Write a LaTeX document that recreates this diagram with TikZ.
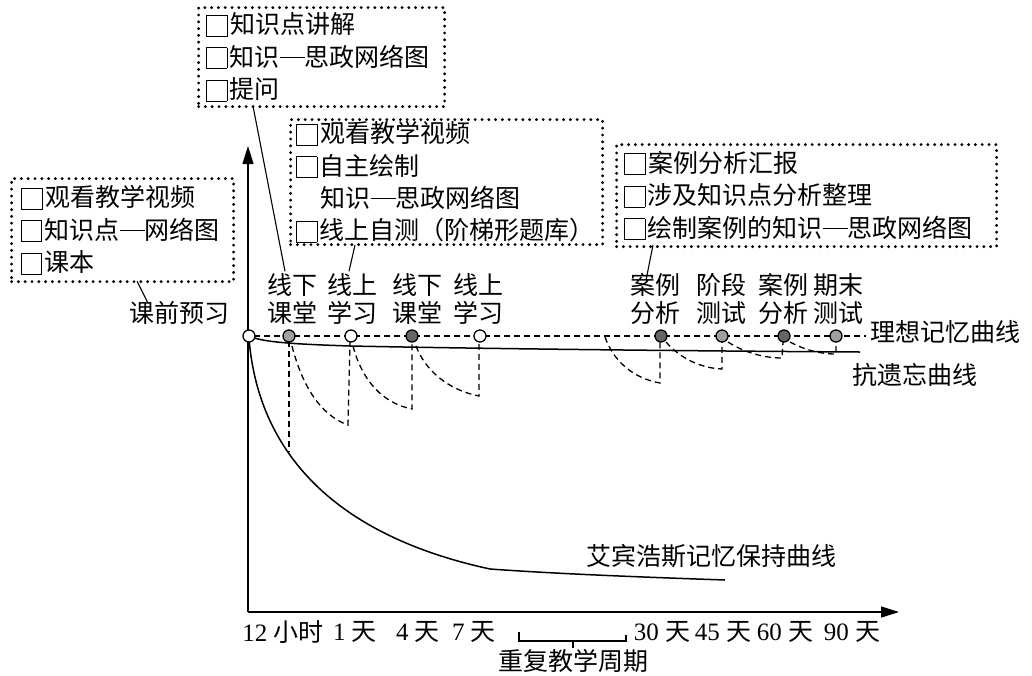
\documentclass[tikz,border=0pt]{standalone}
\usepackage{fontspec}
\setmainfont{Liberation Serif}
\newfontfamily\cjk{Noto Sans CJK SC}
\usetikzlibrary{arrows.meta}
\definecolor{lg}{HTML}{A0A0A0}
\definecolor{dg}{HTML}{666666}
\newcommand\sqbox{\kern0.02em\raisebox{-0.07em}{\setlength{\fboxsep}{0pt}\setlength{\fboxrule}{0.9pt}\fbox{\rule{0pt}{0.8em}\rule{0.8em}{0pt}}}\kern0.1em}
\newcommand\cdash{\rule[0.33em]{1em}{0.05em}}
\begin{document}
\begin{tikzpicture}[x=1pt,y=-1pt,
 txt/.style={font=\cjk\fontsize{25}{28}\selectfont, inner sep=0pt},
 lbl/.style={txt, align=center},
 dotbox/.style={draw, line width=3.2pt, dash pattern=on 0pt off 6.8pt, line cap=round,
   font=\cjk\fontsize{25}{32}\selectfont, align=left, anchor=north west, inner xsep=7pt, inner ysep=0pt},
 axis/.style={line width=1.4pt, -{Triangle[length=18pt,width=11pt]}},
 dsh/.style={line width=1.3pt, dash pattern=on 6pt off 4pt},
 pt/.style={circle, draw, line width=1.3pt, minimum size=12pt, inner sep=0pt},
 conn/.style={line width=1.1pt},
 curve/.style={line width=1.5pt}]
\useasboundingbox (0,0) rectangle (1032,675);

% boxes
\node[dotbox, text width=232pt, minimum height=99pt] (b1) at (197,6) {\sqbox 知识点讲解\\\sqbox 知识\cdash 思政网络图\\\sqbox 提问};
\node[dotbox, inner xsep=5pt, text width=302pt, minimum height=125pt] (b2) at (289,118) {\sqbox 观看教学视频\\\sqbox 自主绘制\\\hspace*{1em}知识\cdash 思政网络图\\\sqbox 线上自测（阶梯形题库）};
\node[dotbox, text width=366pt, minimum height=102pt] (b3) at (615,143) {\sqbox 案例分析汇报\\\sqbox 涉及知识点分析整理\\\sqbox 绘制案例的知识\cdash 思政网络图};
\node[dotbox, inner xsep=9pt, text width=204pt, minimum height=103pt] (b4) at (10,177) {\sqbox 观看教学视频\\\sqbox 知识点\cdash 网络图\\\sqbox 课本};

% axes
\coordinate (O) at (248,612);
\coordinate (ytip) at (248,146);
\coordinate (xtip) at (899,612);
\draw[axis] (O) -- (ytip);
\draw[axis] (O) -- (xtip);

% Ebbinghaus curve
\draw[curve] (249,338) .. controls (256,430) and (310,530) .. (490,569) .. controls (560,574) and (640,577) .. (725,580);

% anti-forgetting curve
\draw[curve] (249,336) .. controls (262,342) and (290,344) .. (350,346) .. controls (500,349) and (700,351) .. (860,352);

% ideal line
\draw[dsh] (254,336) -- (866,336);

% sawtooth dashed
\draw[dsh] (289,341) -- (289,452);
\draw[dsh] (292,346) .. controls (302,385) and (320,415) .. (348,425) -- (350,342);
\draw[dsh] (353,346) .. controls (362,380) and (382,403) .. (412,409) -- (412,342);
\draw[dsh] (416,346) .. controls (425,370) and (448,390) .. (479,396) -- (479,342);
\draw[dsh] (605,337) .. controls (613,360) and (632,378) .. (660,383) -- (660,342);
\draw[dsh] (666,342) .. controls (680,358) and (700,368) .. (722,369) -- (722,342);
\draw[dsh] (728,342) .. controls (745,353) and (765,358) .. (782,358) -- (783,342);
\draw[dsh] (790,342) .. controls (805,350) and (820,354) .. (836,354) -- (836,342);

% points
\node[pt, fill=white] (p0) at (249,336) {};
\node[pt, fill=lg] (p1) at (289,336) {};
\node[pt, fill=white] (p2) at (351,336) {};
\node[pt, fill=dg] (p3) at (412,336) {};
\node[pt, fill=white] (p4) at (480,336) {};
\node[pt, fill=dg] (p5) at (661,336) {};
\node[pt, fill=lg] (p6) at (722,336) {};
\node[pt, fill=dg] (p7) at (784,336) {};
\node[pt, fill=lg] (p8) at (836,336) {};

% labels above points
\node[lbl] (l1) at (292,299) {线下\\课堂};
\node[lbl] (l2) at (352,299) {线上\\学习};
\node[lbl] (l3) at (417,299) {线下\\课堂};
\node[lbl] (l4) at (478,299) {线上\\学习};
\node[lbl] (l5) at (655,299) {案例\\分析};
\node[lbl] (l6) at (721,299) {阶段\\测试};
\node[lbl] (l7) at (783,299) {案例\\分析};
\node[lbl] (l8) at (838,299) {期末\\测试};
\node[txt] (pre) at (179,313) {课前预习};

% curve names
\node[txt, anchor=west] (ideal) at (870,332) {理想记忆曲线};
\node[txt, anchor=west] (anti) at (852,375) {抗遗忘曲线};
\node[txt, anchor=west] (ebb) at (586,556) {艾宾浩斯记忆保持曲线};

% connectors
\coordinate (c1) at (253,106);
\draw[conn] (c1) -- ([xshift=-7pt,yshift=2pt]l1.north);
\coordinate (c2) at (355,245);
\draw[conn] (c2) -- ([xshift=-3pt,yshift=2pt]l2.north);
\coordinate (c3) at (653,245);
\draw[conn] (c3) -- ([xshift=-9pt,yshift=-7pt]l5.north);
\coordinate (c4) at (137,281);
\draw[conn] (c4) -- ([xshift=-31pt,yshift=-2pt]pre.north);

% axis labels
\node[txt] (t1) at (283,632) {\rmfamily 12 \cjk 小时};
\node[txt] (t2) at (355,632) {\rmfamily 1 \cjk 天};
\node[txt] (t3) at (418,632) {\rmfamily 4 \cjk 天};
\node[txt] (t4) at (474,632) {\rmfamily 7 \cjk 天};
\node[txt] (t5) at (662,632) {\rmfamily 30 \cjk 天};
\node[txt] (t6) at (723,632) {\rmfamily 45 \cjk 天};
\node[txt] (t7) at (785,632) {\rmfamily 60 \cjk 天};
\node[txt] (t8) at (852,632) {\rmfamily 90 \cjk 天};
\node[txt] (rep) at (573,661) {重复教学周期};
\coordinate (bl) at (519,632);
\coordinate (br) at (626,635);
\coordinate (bm) at (573,648);
\draw[conn] (bl) -- (bl |- 0,641) -- (br |- 0,641) -- (br);
\draw[conn] (bm) -- (bm |- 0,641);
\end{tikzpicture}
\end{document}
